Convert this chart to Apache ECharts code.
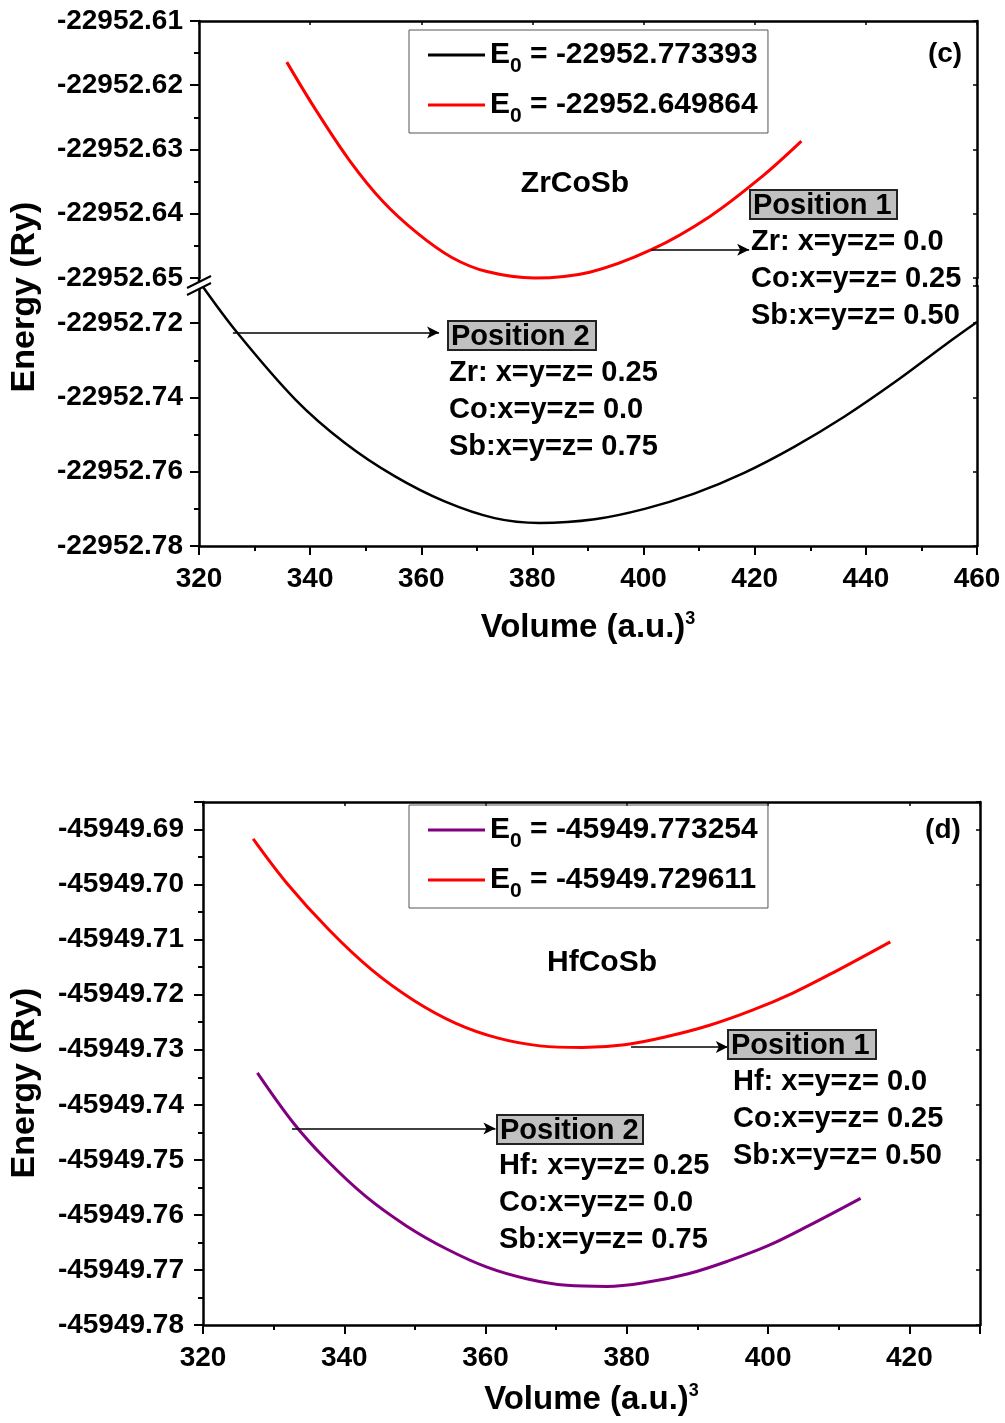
<!DOCTYPE html>
<html><head><meta charset="utf-8">
<script src="https://cdn.jsdelivr.net/npm/echarts@6/dist/echarts.min.js"></script>
<style>html,body{margin:0;padding:0;background:#fff}#c{width:1005px;height:1423px}</style>
</head><body><div id="c"></div>
<script>
// ---------- Panel (c) ZrCoSb ----------
const zrBlackVol = [320.6, 326.9, 337.3, 346.2, 355.2, 364.2, 373.2, 381.3, 391.2, 400.2, 409.1, 418.1, 427.1, 436.1, 445.1, 454.3, 460.0];
const zrBlackE   = [-22952.7100, -22952.7226, -22952.7405, -22952.7522, -22952.7612, -22952.7680, -22952.7725, -22952.7738, -22952.7728, -22952.7700, -22952.7659, -22952.7603, -22952.7533, -22952.7452, -22952.7360, -22952.7258, -22952.7197];
const zrRedVol   = [335.8, 340.7, 347.0, 353.1, 359.4, 365.5, 371.8, 380.4, 390.3, 401.4, 411.8, 421.2, 428.4];
const zrRedE     = [-22952.6164, -22952.6234, -22952.6316, -22952.6381, -22952.6431, -22952.6468, -22952.6490, -22952.6500, -22952.6491, -22952.6456, -22952.6405, -22952.6343, -22952.6287];
const zrNames    = ['E0 = -22952.773393', 'E0 = -22952.649864'];
// arrows [x1, x2, y]
const zrArrow1 = [401.4, 419.0, -22952.6456];
const zrArrow2 = [326.1, 363.2, -22952.7225];

// ---------- Panel (d) HfCoSb ----------
const hfPurpleVol = [327.7, 332.8, 337.4, 343.0, 348.8, 354.5, 360.2, 365.8, 371.5, 377.2, 383.0, 388.7, 394.3, 400.0, 405.7, 413.1];
const hfPurpleE   = [-45949.7342, -45949.7433, -45949.7499, -45949.7566, -45949.7620, -45949.7662, -45949.7695, -45949.7716, -45949.7728, -45949.7730, -45949.7722, -45949.7707, -45949.7684, -45949.7656, -45949.7620, -45949.7570];
const hfRedVol    = [327.1, 331.9, 337.9, 343.9, 349.8, 355.8, 361.8, 367.7, 373.7, 379.7, 385.7, 391.6, 397.6, 403.5, 409.5, 417.3];
const hfRedE      = [-45949.6917, -45949.6998, -45949.7083, -45949.7155, -45949.7210, -45949.7252, -45949.7279, -45949.7293, -45949.7296, -45949.7291, -45949.7276, -45949.7256, -45949.7229, -45949.7197, -45949.7158, -45949.7104];
const hfNames     = ['E0 = -45949.773254', 'E0 = -45949.729611'];
const hfArrow1 = [380.6, 394.3, -45949.7295];
const hfArrow2 = [332.6, 361.4, -45949.7443];

const FONT = '"Liberation Sans", Arial, sans-serif';
const pair = (xs, ys) => xs.map((x, i) => [x, ys[i]]);
const fmt2 = v => v.toFixed(2);

function arrowLine(a) {
  return {
    silent: true, animation: false,
    symbol: ['none', 'arrow'], symbolSize: [9, 12],
    lineStyle: {color: '#000', width: 1.5, type: 'solid'},
    label: {show: false}, emphasis: {disabled: true},
    data: [[{coord: [a[0], a[2]]}, {coord: [a[1], a[2]]}]]
  };
}

const lineW = 2.5;
function xAx(grid, min, max, opts) {
  return Object.assign({
    type: 'value', gridIndex: grid, min: min, max: max, interval: 20,
    axisLine: {show: true, onZero: false, lineStyle: {color: '#000', width: lineW}},
    splitLine: {show: false}
  }, opts);
}
function yAx(grid, min, max, itv, opts) {
  return Object.assign({
    type: 'value', gridIndex: grid, min: min, max: max, interval: itv,
    axisLine: {show: true, onZero: false, lineStyle: {color: '#000', width: lineW}},
    splitLine: {show: false}, scale: true
  }, opts);
}
function mainX(showMax, nameGap) {
  return {
    position: 'bottom',
    axisTick: {show: true, inside: false, length: 9, lineStyle: {width: 2, color: '#000'}},
    minorTick: {show: true, splitNumber: 2, length: 5, lineStyle: {width: 2, color: '#000'}},
    axisLabel: {show: true, color: '#000', fontSize: 28, fontWeight: 'bold', fontFamily: FONT, margin: 19, showMinLabel: true, showMaxLabel: showMax, hideOverlap: false},
    nameLocation: 'middle', nameGap: nameGap,
    nameTextStyle: {rich: {
      a: {fontSize: 33, fontWeight: 'bold', fontFamily: FONT, color: '#000', lineHeight: 36},
      b: {fontSize: 18, fontWeight: 'bold', fontFamily: FONT, color: '#000', verticalAlign: 'top', lineHeight: 18}
    }},
    name: '{a|Volume (a.u.)}{b|3}'
  };
}
const topX = {
  position: 'top',
  axisTick: {show: true, inside: true, length: 4, lineStyle: {width: 1.5, color: '#000'}},
  axisLabel: {show: false}
};
function mainY(showMax, margin) {
  return {
    position: 'left',
    axisTick: {show: true, inside: false, length: 9, lineStyle: {width: 2, color: '#000'}},
    minorTick: {show: true, splitNumber: 2, length: 5, lineStyle: {width: 2, color: '#000'}},
    axisLabel: {show: true, color: '#000', fontSize: 28, fontWeight: 'bold', fontFamily: FONT, margin: margin, formatter: fmt2, showMinLabel: true, showMaxLabel: showMax, hideOverlap: false}
  };
}
const rightY = {
  position: 'right',
  axisTick: {show: true, inside: true, length: 4, lineStyle: {width: 1.5, color: '#000'}},
  axisLabel: {show: false}
};

function legendFor(names, top) {
  return {
    data: names, orient: 'vertical', left: 409, top: top,
    borderColor: '#555', borderWidth: 1, padding: [10, 8, 6, 19],
    icon: 'rect', itemWidth: 57, itemHeight: 3, itemGap: 13, selectedMode: false,
    formatter: n => '{e|E}{s|0}{t|' + n.slice(2) + '}{p| }',
    textStyle: {rich: {
      e: {fontSize: 30, fontWeight: 'bold', fontFamily: FONT, color: '#000', lineHeight: 24, verticalAlign: 'middle'},
      s: {fontSize: 21, fontWeight: 'bold', fontFamily: FONT, color: '#000', lineHeight: 20, verticalAlign: 'bottom'},
      t: {fontSize: 30, fontWeight: 'bold', fontFamily: FONT, color: '#000', lineHeight: 24, verticalAlign: 'middle'},
      p: {fontSize: 8, fontFamily: FONT, lineHeight: 44}
    }}
  };
}

function txt(text, x, y, align, size) {
  return {type: 'text', x: x, y: y, z: 50, silent: true,
    style: {text: text, fill: '#000', font: 'bold ' + (size || 29) + 'px ' + FONT, align: align || 'left', verticalAlign: 'middle'}};
}
function box(label, x, y, w, h) {
  return [
    {type: 'rect', z: 49, silent: true, shape: {x: x, y: y, width: w, height: h},
      style: {fill: '#c0c0c0', stroke: '#222', lineWidth: 2}},
    txt(label, x + 3, y + h / 2 + 1, 'left')
  ];
}

const graphics = [].concat(
  // axis titles
  [{type: 'text', x: 25, y: 297, rotation: Math.PI / 2, z: 50, silent: true,
    style: {text: 'Energy (Ry)', fill: '#000', font: 'bold 34px ' + FONT, align: 'center', verticalAlign: 'middle'}},
   {type: 'text', x: 25, y: 1083, rotation: Math.PI / 2, z: 50, silent: true,
    style: {text: 'Energy (Ry)', fill: '#000', font: 'bold 34px ' + FONT, align: 'center', verticalAlign: 'middle'}}],
  // axis break (c)
  [{type: 'line', z: 40, silent: true, shape: {x1: 199, y1: 277, x2: 199, y2: 287}, style: {stroke: '#000', lineWidth: lineW}},
   {type: 'line', z: 40, silent: true, shape: {x1: 977, y1: 277, x2: 977, y2: 287}, style: {stroke: '#000', lineWidth: lineW}},
   {type: 'polygon', z: 41, silent: true, shape: {points: [[187, 288], [211, 276], [211, 283], [187, 295]]}, style: {fill: '#fff'}},
   {type: 'line', z: 42, silent: true, shape: {x1: 187, y1: 288, x2: 211, y2: 276}, style: {stroke: '#000', lineWidth: 2}},
   {type: 'line', z: 42, silent: true, shape: {x1: 187, y1: 295, x2: 211, y2: 283}, style: {stroke: '#000', lineWidth: 2}}],
  // panel (c) annotations
  [txt('ZrCoSb', 575, 184, 'center', 30), txt('(c)', 945, 54, 'center', 28)],
  box('Position 1', 750, 190, 147, 29),
  [txt('Zr: x=y=z= 0.0', 751, 242), txt('Co:x=y=z= 0.25', 751, 279), txt('Sb:x=y=z= 0.50', 751, 316)],
  box('Position 2', 448, 321, 148, 29),
  [txt('Zr: x=y=z= 0.25', 449, 373), txt('Co:x=y=z= 0.0', 449, 410), txt('Sb:x=y=z= 0.75', 449, 447)],
  // panel (d) annotations
  [txt('HfCoSb', 602, 963, 'center', 30), txt('(d)', 943, 830, 'center', 28)],
  box('Position 1', 728, 1030, 148, 29),
  [txt('Hf: x=y=z= 0.0', 733, 1082), txt('Co:x=y=z= 0.25', 733, 1119), txt('Sb:x=y=z= 0.50', 733, 1156)],
  box('Position 2', 497, 1115, 146, 29),
  [txt('Hf: x=y=z= 0.25', 499, 1166), txt('Co:x=y=z= 0.0', 499, 1203), txt('Sb:x=y=z= 0.75', 499, 1240)]
);

const SMOOTH = 0.35;
const chart = echarts.init(document.getElementById('c'), null, {renderer: 'canvas'});
chart.setOption({
  animation: false,
  backgroundColor: '#fff',
  grid: [
    {left: 199, top: 21, width: 778, height: 257},
    {left: 199, top: 286, width: 778, height: 260},
    {left: 203, top: 802, width: 777, height: 523}
  ],
  xAxis: [
    xAx(0, 320, 460, topX),
    xAx(1, 320, 460, mainX(true, 64)),
    xAx(2, 320, 430, mainX(false, 57)),
    xAx(2, 320, 430, topX)
  ],
  yAxis: [
    yAx(0, -22952.65, -22952.61, 0.01, mainY(true, 16)),
    yAx(0, -22952.65, -22952.61, 0.01, rightY),
    yAx(1, -22952.78, -22952.71, 0.02, mainY(false, 16)),
    yAx(1, -22952.78, -22952.71, 0.02, rightY),
    yAx(2, -45949.78, -45949.685, 0.01, mainY(false, 19)),
    yAx(2, -45949.78, -45949.685, 0.01, rightY)
  ],
  legend: [legendFor(zrNames, 30), legendFor(hfNames, 805)],
  graphic: graphics,
  series: [
    {name: zrNames[0], type: 'line', xAxisIndex: 1, yAxisIndex: 2, data: pair(zrBlackVol, zrBlackE),
     smooth: SMOOTH, symbol: 'none', clip: false, color: '#000', lineStyle: {color: '#000', width: 2.5}, markLine: arrowLine(zrArrow2)},
    {name: zrNames[1], type: 'line', xAxisIndex: 0, yAxisIndex: 0, data: pair(zrRedVol, zrRedE),
     smooth: SMOOTH, symbol: 'none', clip: false, color: '#ff0000', lineStyle: {color: '#ff0000', width: 3}, markLine: arrowLine(zrArrow1)},
    {name: hfNames[0], type: 'line', xAxisIndex: 2, yAxisIndex: 4, data: pair(hfPurpleVol, hfPurpleE),
     smooth: SMOOTH, symbol: 'none', clip: false, color: '#800080', lineStyle: {color: '#800080', width: 3}, markLine: arrowLine(hfArrow2)},
    {name: hfNames[1], type: 'line', xAxisIndex: 2, yAxisIndex: 4, data: pair(hfRedVol, hfRedE),
     smooth: SMOOTH, symbol: 'none', clip: false, color: '#ff0000', lineStyle: {color: '#ff0000', width: 3}, markLine: arrowLine(hfArrow1)}
  ]
});
</script></body></html>
